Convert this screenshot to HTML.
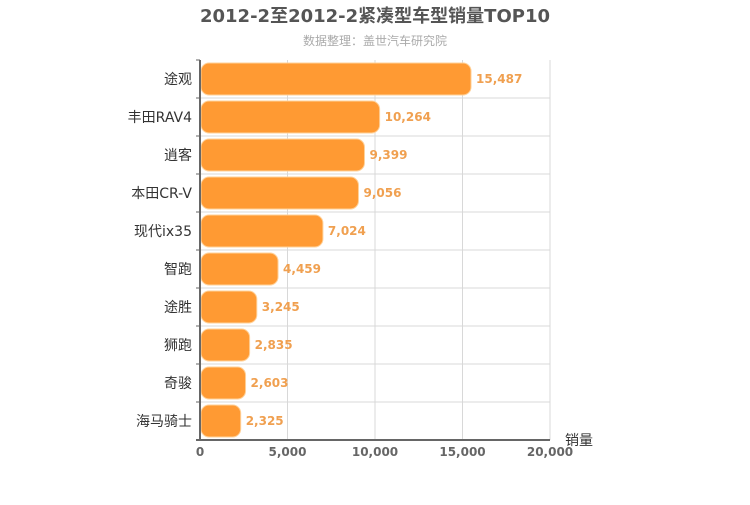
<!DOCTYPE html>
<html><head><meta charset="utf-8"><style>
body{margin:0;background:#fff;}
svg text{font-family:"DejaVu Sans","Liberation Sans","Noto Sans CJK SC",sans-serif;}
</style></head><body>
<svg id="c" width="750" height="500" xmlns="http://www.w3.org/2000/svg">
<text x="375" y="22" text-anchor="middle" font-size="18" font-weight="bold" fill="#555">2012-2至2012-2紧凑型车型销量TOP10</text>
<text x="375" y="45" text-anchor="middle" font-size="12" fill="#aaa">数据整理：盖世汽车研究院</text>
<g id="grid"></g><g id="bars"></g><g id="axes"></g>
</svg>
<script>
const categories=["途观","丰田RAV4","逍客","本田CR-V","现代ix35","智跑","途胜","狮跑","奇骏","海马骑士"];
const values=[15487,10264,9399,9056,7024,4459,3245,2835,2603,2325];
const ticks=[0,5000,10000,15000,20000];
const tickLabels=["0","5,000","10,000","15,000","20,000"];
const NS="http://www.w3.org/2000/svg";
const L=200,R=550,T=60,B=440,MAX=20000;
const xs=v=>L+v/MAX*(R-L);
const rowH=(B-T)/categories.length;
const ys=i=>T+i*rowH;
function mk(p,t,a){const e=document.createElementNS(NS,t);for(const k in a)e.setAttribute(k,a[k]);p.appendChild(e);return e;}
const g=document.getElementById('grid'),b=document.getElementById('bars'),ax=document.getElementById('axes');
ticks.forEach((t,i)=>{
 const l=mk(g,'line',{x1:xs(t),x2:xs(t),y1:T,y2:B,stroke:'#d8d8d8'});
 
 
 const tx=mk(ax,'text',{x:xs(t),y:B+16,'text-anchor':'middle','font-size':12,'font-weight':'bold',fill:'#666'});
 tx.textContent=tickLabels[i];
 
 
});
categories.forEach((c,i)=>{
 if(i>0){const l=mk(g,'line',{x1:L,x2:R,y1:ys(i),y2:ys(i),stroke:'#d8d8d8'});
 
 }
 const tk=mk(ax,'line',{x1:L-4,x2:L,y1:ys(i),y2:ys(i),stroke:'#666'});
 
 
 const r=mk(b,'rect',{x:L+1,y:ys(i)+3,width:xs(values[i])-L-1,height:rowH-6,rx:8,fill:'#ff9a33',stroke:'#ffd199','stroke-width':1});
 
 
 const v=mk(b,'text',{x:xs(values[i])+5,y:ys(i)+rowH/2+4,'font-size':12,'font-weight':'bold',fill:'#f0a050'});
 v.textContent=values[i].toLocaleString('en-US');
 
 
 const cl=mk(ax,'text',{x:L-8,y:ys(i)+rowH/2+5,'text-anchor':'end','font-size':14,fill:'#333'});
 cl.textContent=c;
 
 
});
const ya=mk(ax,'line',{x1:L,x2:L,y1:T,y2:B,stroke:'#666','stroke-width':2});


const xa=mk(ax,'line',{x1:L-4,x2:R,y1:B,y2:B,stroke:'#666','stroke-width':2});


const t=mk(ax,'line',{x1:L-4,x2:L,y1:T,y2:T,stroke:'#666'});


const xt=mk(ax,'text',{x:565,y:445,'font-size':14,fill:'#333'});
xt.textContent='销量';


</script>
</body></html>
